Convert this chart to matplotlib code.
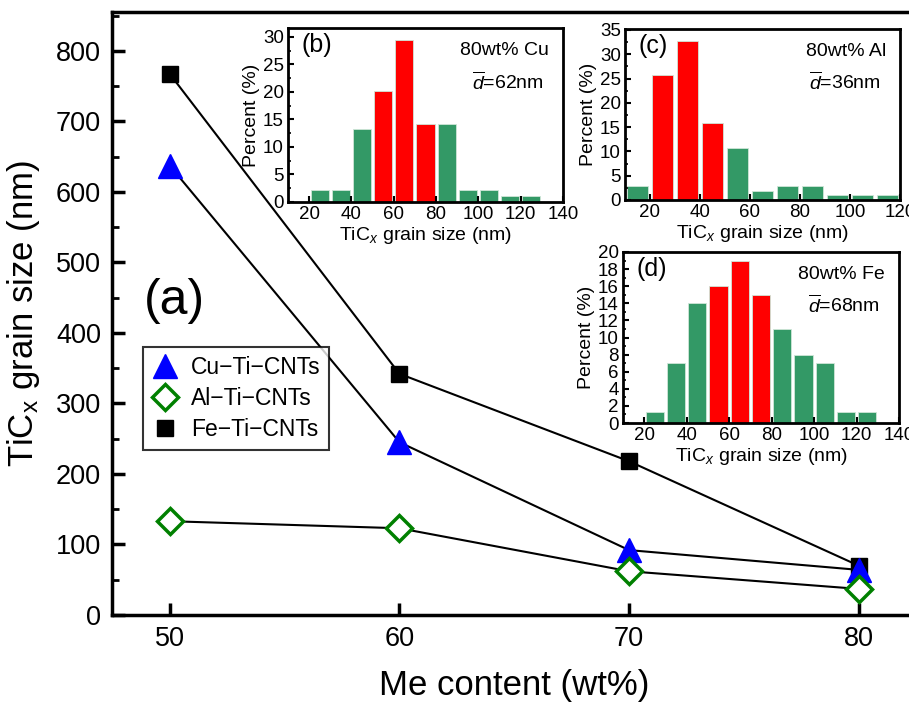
import matplotlib
matplotlib.use("Agg")
import matplotlib.pyplot as plt
import numpy as np
from matplotlib.ticker import MultipleLocator

plt.rcParams['font.family'] = ['Liberation Sans', 'DejaVu Sans']
plt.rcParams['mathtext.fontset'] = 'custom'
plt.rcParams['mathtext.rm'] = 'Liberation Sans'
plt.rcParams['mathtext.it'] = 'Liberation Sans:italic'
plt.rcParams['axes.unicode_minus'] = True

# ---- main data ----
me_content = [50, 60, 70, 80]
cu_ti = [637, 245, 92, 64]
al_ti = [133, 123, 62, 37]
fe_ti = [767, 342, 218, 70]
y_ticks = [0, 100, 200, 300, 400, 500, 600, 700, 800]

# ---- inset data ----
bins_b = [25, 35, 45, 55, 65, 75, 85, 95, 105, 115, 125]
pct_b = [2.1, 2.1, 13.2, 20.2, 29.4, 14.1, 14.1, 2.1, 2.1, 1.1, 1.1]
red_b = [55, 65, 75]

bins_c = [15, 25, 35, 45, 55, 65, 75, 85, 95, 105, 115]
pct_c = [2.9, 25.7, 32.8, 15.8, 10.8, 1.9, 2.9, 2.9, 1.0, 1.0, 1.0]
red_c = [25, 35, 45]

bins_d = [25, 35, 45, 55, 65, 75, 85, 95, 105, 115, 125]
pct_d = [1.24, 7.0, 14.0, 16.0, 19.0, 14.95, 11.0, 8.0, 7.0, 1.24, 1.24]
red_d = [55, 65, 75]

GREEN = '#339966'
RED = '#ff0000'

fig = plt.figure(figsize=(9.09, 7.05), dpi=100)
ax = fig.add_axes([112/909, 90/705, 804/909, 603/705])

ax.plot(me_content, fe_ti, color='black', lw=1.5, marker='s', ms=12,
        mfc='black', mec='black', label='Fe\u2212Ti\u2212CNTs', zorder=3)
ax.plot(me_content, cu_ti, color='black', lw=1.5, marker='^', ms=17,
        mfc='blue', mec='blue', label='Cu\u2212Ti\u2212CNTs', zorder=4)
ax.plot(me_content, al_ti, color='black', lw=1.5, marker='D', ms=13,
        mfc='white', mec='green', mew=2.5, label='Al\u2212Ti\u2212CNTs', zorder=5)

ax.set_xlim(47.48, 82.5)
ax.set_ylim(0, 855)
ax.set_xticks(me_content)
ax.set_yticks(y_ticks)
ax.yaxis.set_minor_locator(MultipleLocator(50))
for s in ax.spines.values():
    s.set_linewidth(2.5)
ax.tick_params(which='major', direction='in', length=9, width=2.5, labelsize=19.5, pad=8)
ax.tick_params(which='minor', direction='in', length=5, width=2)
ax.set_xlabel('Me content (wt%)', fontsize=25, labelpad=12)
ax.set_ylabel('TiC$_\\mathrm{x}$ grain size (nm)', fontsize=25, labelpad=10)
ax.text(0.04, 0.52, '(a)', transform=ax.transAxes, fontsize=36, ha='left', va='center')

handles, labels = ax.get_legend_handles_labels()
order = [1, 2, 0]
leg = ax.legend([handles[i] for i in order], [labels[i] for i in order],
                loc='upper left', bbox_to_anchor=(0.038, 0.445), borderaxespad=0,
                fontsize=16.5, frameon=True, fancybox=False, handlelength=1.2,
                handletextpad=0.5, borderpad=0.4, labelspacing=0.35)
leg.get_frame().set_edgecolor('black')
leg.get_frame().set_linewidth(1.5)
for h in leg.legend_handles:
    h.set_linestyle('None')


def inset(rect, bins, pct, reds, xlim, ylim, ymaj, ymin, xt, tag, line1, line2):
    a = fig.add_axes(rect)
    colors = [RED if b in reds else GREEN for b in bins]
    a.bar(bins, pct, width=8.6, color=colors, edgecolor='#cfe6d8', linewidth=0.6)
    a.set_xlim(*xlim)
    a.set_ylim(*ylim)
    a.set_xticks(xt)
    a.yaxis.set_major_locator(MultipleLocator(ymaj))
    a.yaxis.set_minor_locator(MultipleLocator(ymin))
    for s in a.spines.values():
        s.set_linewidth(2)
    a.tick_params(which='major', direction='in', length=4, width=1.5, labelsize=13.5, pad=3)
    a.tick_params(which='minor', direction='in', length=2.5, width=1.2)
    a.set_ylabel('Percent (%)', fontsize=14, labelpad=2)
    a.set_xlabel('TiC$_{x}$ grain size (nm)', fontsize=14, labelpad=1)
    a.text(0.05, 0.9, tag, transform=a.transAxes, fontsize=18, ha='left', va='center')
    a.text(0.95, 0.87, line1, transform=a.transAxes, fontsize=14, ha='right', va='center')
    a.text(0.93, 0.69, line2, transform=a.transAxes, fontsize=14, ha='right', va='center')
    return a


inset([288/909, 503/705, 275/909, 174/705], bins_b, pct_b, red_b, (10, 140), (0, 31.6),
      5, 2.5, [20, 40, 60, 80, 100, 120, 140], '(b)', '80wt% Cu', r'$\overline{d}$=62nm')
inset([625/909, 505/705, 275/909, 171/705], bins_c, pct_c, red_c, (10, 120), (0, 35.2),
      5, 2.5, [20, 40, 60, 80, 100, 120], '(c)', '80wt% Al', r'$\overline{d}$=36nm')
inset([623/909, 282/705, 276/909, 171/705], bins_d, pct_d, red_d, (10, 140), (0, 20),
      2, 1, [20, 40, 60, 80, 100, 120, 140], '(d)', '80wt% Fe', r'$\overline{d}$=68nm')

fig.savefig('out.png', dpi=100)
